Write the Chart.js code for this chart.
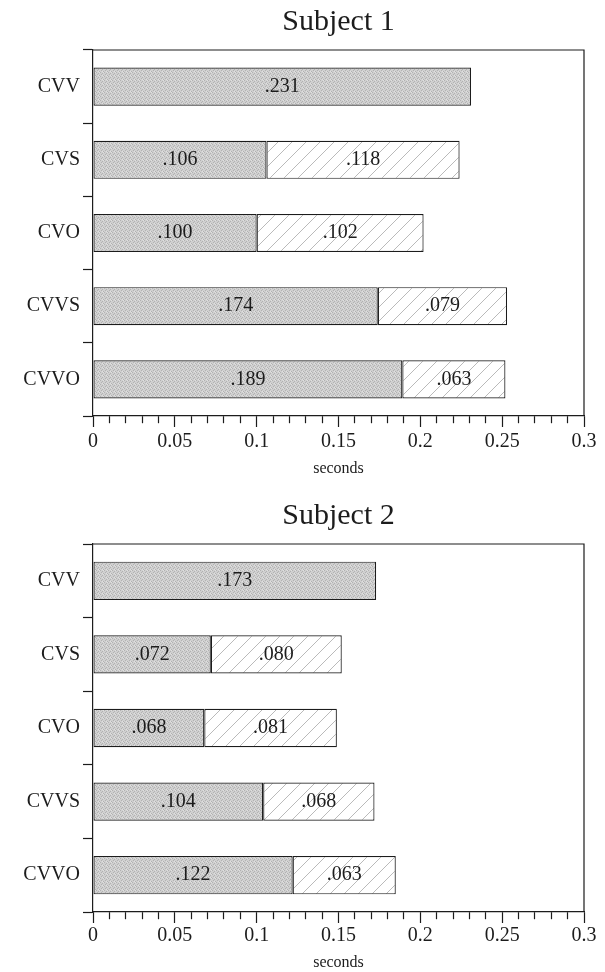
<!DOCTYPE html>
<html>
<head>
<meta charset="utf-8">
<script src="https://cdn.jsdelivr.net/npm/chart.js@4.4.1/dist/chart.umd.min.js"></script>
<style>
  html, body { margin: 0; padding: 0; background: #fff; }
  #wrap { position: relative; width: 605px; height: 972px; }
  canvas { position: absolute; left: 0; }
</style>
</head>
<body>
<div id="wrap">
  <canvas id="s1" width="605" height="482" style="top:0"></canvas>
  <canvas id="s2" width="605" height="490" style="top:482px"></canvas>
</div>
<script>
const categories = ['CVV', 'CVS', 'CVO', 'CVVS', 'CVVO'];
const subject1First = [0.231, 0.106, 0.100, 0.174, 0.189];
const subject1Second = [null, 0.118, 0.102, 0.079, 0.063];
const subject2First = [0.173, 0.072, 0.068, 0.104, 0.122];
const subject2Second = [null, 0.080, 0.081, 0.068, 0.063];
const xTickLabels = ['0', '0.05', '0.1', '0.15', '0.2', '0.25', '0.3'];

const SERIF = '"Liberation Serif", "DejaVu Serif", serif';
const INK = '#1c1c1c';

// grey stipple fill
function stipple() {
  const c = document.createElement('canvas');
  c.width = 4; c.height = 4;
  const g = c.getContext('2d');
  g.fillStyle = '#d0d0d0';
  g.fillRect(0, 0, 4, 4);
  g.fillStyle = '#b2b2b2';
  g.fillRect(0, 0, 1, 1); g.fillRect(2, 1, 1, 1); g.fillRect(1, 2, 1, 1); g.fillRect(3, 3, 1, 1);
  g.fillStyle = '#e0e0e0';
  g.fillRect(2, 3, 1, 1); g.fillRect(3, 0, 1, 1);
  return g.createPattern(c, 'repeat');
}

// diagonal hatch fill
function hatch() {
  const n = 14;
  const c = document.createElement('canvas');
  c.width = n; c.height = n;
  const g = c.getContext('2d');
  g.fillStyle = '#fff';
  g.fillRect(0, 0, n, n);
  g.strokeStyle = '#a8a8a8';
  g.lineWidth = 0.8;
  g.beginPath();
  g.moveTo(0, n); g.lineTo(n, 0);
  g.moveTo(-1, 1); g.lineTo(1, -1);
  g.moveTo(n - 1, n + 1); g.lineTo(n + 1, n - 1);
  g.stroke();
  return g.createPattern(c, 'repeat');
}

const isMajor = v => Math.abs(v * 20 - Math.round(v * 20)) < 1e-6;

const frame = {
  id: 'frame',
  afterDraw(chart) {
    const { ctx, chartArea: a } = chart;
    ctx.save();
    ctx.strokeStyle = INK;
    ctx.lineWidth = 1.2;
    ctx.beginPath();
    ctx.moveTo(a.left, a.top);
    ctx.lineTo(a.right, a.top);
    ctx.lineTo(a.right, a.bottom);
    ctx.stroke();
    ctx.restore();
  }
};

const valueLabels = {
  id: 'valueLabels',
  afterDatasetsDraw(chart) {
    const ctx = chart.ctx;
    ctx.save();
    ctx.font = '20px ' + SERIF;
    ctx.fillStyle = INK;
    ctx.textAlign = 'center';
    ctx.textBaseline = 'middle';
    chart.data.datasets.forEach((ds, i) => {
      chart.getDatasetMeta(i).data.forEach((bar, j) => {
        const v = ds.data[j];
        if (v == null) return;
        const p = bar.getProps(['x', 'y', 'base'], true);
        ctx.fillText(v.toFixed(3).replace(/^0/, ''), (p.x + p.base) / 2, p.y);
      });
    });
    ctx.restore();
  }
};

function makeChart(id, title, first, second, g) {
  const bar = { borderColor: INK, borderWidth: 1.2, borderSkipped: false, barPercentage: 0.52, categoryPercentage: 1 };
  new Chart(document.getElementById(id), {
    type: 'bar',
    data: {
      labels: categories,
      datasets: [
        Object.assign({ data: first, backgroundColor: stipple() }, bar),
        Object.assign({ data: second, backgroundColor: hatch() }, bar)
      ]
    },
    options: {
      indexAxis: 'y',
      responsive: false,
      animation: false,
      devicePixelRatio: 1,
      layout: { padding: { left: 0, right: 21, top: 0, bottom: 0 } },
      plugins: {
        legend: { display: false },
        tooltip: { enabled: false },
        title: {
          display: true, text: title, color: INK, fullSize: false,
          font: { family: SERIF, size: 30, weight: 'normal' },
          padding: { top: g.titleTop, bottom: g.titleBottom }
        }
      },
      scales: {
        x: {
          type: 'linear', stacked: true, min: 0, max: 0.3,
          afterFit: s => { s.height = g.xHeight; },
          border: { color: INK, width: 1.2 },
          grid: {
            drawOnChartArea: false, tickLength: 11, tickColor: INK, tickWidth: 1.2,
            tickBorderDash: c => (c.tick && !isMajor(c.tick.value)) ? [7, 30] : []
          },
          ticks: {
            stepSize: 0.01, autoSkip: false, maxRotation: 0, minRotation: 0,
            padding: g.tickPad, color: INK, font: { family: SERIF, size: 20 },
            callback: (v, i) => i % 5 === 0 ? xTickLabels[i / 5] : ''
          },
          title: {
            display: true, text: 'seconds', color: INK,
            font: { family: SERIF, size: 16 },
            padding: { top: 0, bottom: g.xTitlePad }
          }
        },
        y: {
          stacked: true, offset: true,
          afterFit: s => { s.width = 93; },
          border: { color: INK, width: 1.2 },
          grid: { offset: true, drawOnChartArea: false, tickLength: 10, tickColor: INK, tickWidth: 1.2 },
          ticks: { padding: 3, color: INK, font: { family: SERIF, size: 20 } }
        }
      }
    },
    plugins: [frame, valueLabels]
  });
}

makeChart('s1', 'Subject 1', subject1First, subject1Second,
  { titleTop: 4, titleBottom: 10, xHeight: 66, tickPad: 3, xTitlePad: 4 });
makeChart('s2', 'Subject 2', subject2First, subject2Second,
  { titleTop: 16, titleBottom: 10, xHeight: 60, tickPad: 1, xTitlePad: 0 });
</script>
</body>
</html>
